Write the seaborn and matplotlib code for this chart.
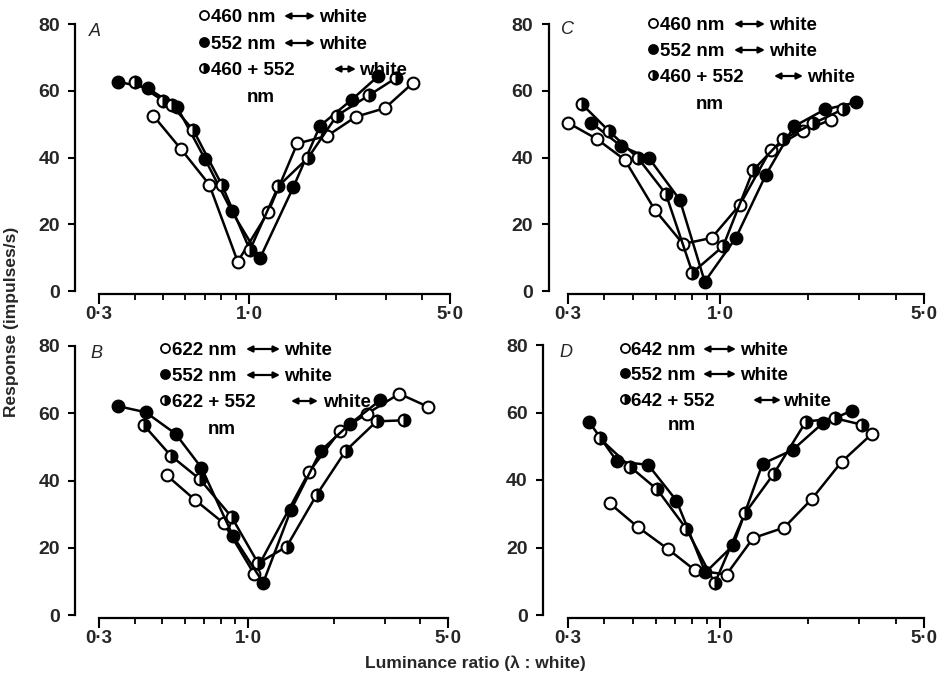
import matplotlib
matplotlib.use("Agg")
import matplotlib.pyplot as plt
from matplotlib.lines import Line2D
from matplotlib.patches import FancyArrowPatch
from matplotlib.ticker import FixedLocator, FixedFormatter, NullFormatter
import seaborn as sns

# ---- data (luminance ratio, response in impulses/s) ----
# panel A: 460 nm, 552 nm, 460+552 nm vs white
a_open_x = [0.464, 0.579, 0.726, 0.912, 1.165, 1.47, 1.87, 2.35, 2.97, 3.71]
a_open_y = [52.5, 42.5, 31.9, 8.8, 23.7, 44.2, 46.5, 52.2, 54.8, 62.3]
a_fill_x = [0.350, 0.443, 0.562, 0.702, 0.869, 1.09, 1.424, 1.764, 2.274, 2.814]
a_fill_y = [62.7, 60.8, 55.0, 39.5, 23.9, 9.8, 31.1, 49.5, 57.3, 64.4]
a_half_x = [0.40, 0.502, 0.538, 0.639, 0.802, 1.006, 1.263, 1.606, 2.016, 2.618, 3.24]
a_half_y = [62.6, 57.0, 55.6, 48.2, 31.9, 12.3, 31.4, 40.0, 52.5, 58.7, 63.8]

# panel B: 622 nm, 552 nm, 622+552 nm vs white
b_open_x = [0.517, 0.649, 0.820, 1.048, 1.633, 2.092, 2.595, 3.376, 4.265]
b_open_y = [41.6, 34.3, 27.3, 12.2, 42.6, 54.7, 59.8, 65.8, 61.9]
b_fill_x = [0.350, 0.437, 0.556, 0.685, 0.884, 1.127, 1.409, 1.794, 2.267, 2.888]
b_fill_y = [62.1, 60.3, 53.9, 43.8, 23.5, 9.6, 31.2, 48.9, 56.8, 63.8]
b_half_x = [0.430, 0.535, 0.676, 0.873, 1.082, 1.361, 1.733, 2.195, 2.812, 3.514]
b_half_y = [56.5, 47.4, 40.4, 29.2, 15.4, 20.3, 35.7, 48.9, 57.6, 57.9]

# panel C: 460 nm, 552 nm, 460+552 nm vs white
c_open_x = [0.300, 0.376, 0.470, 0.596, 0.745, 0.933, 1.166, 1.487, 1.915, 2.396]
c_open_y = [50.4, 45.6, 39.3, 24.3, 14.1, 15.9, 25.8, 42.3, 47.9, 51.3]
c_fill_x = [0.361, 0.455, 0.569, 0.726, 0.884, 1.130, 1.433, 1.788, 2.285, 2.92]
c_fill_y = [50.4, 43.5, 39.8, 27.3, 2.8, 15.9, 34.8, 49.3, 54.4, 56.5]
c_half_x = [0.334, 0.415, 0.522, 0.650, 0.802, 1.022, 1.296, 1.635, 2.083, 2.63]
c_half_y = [56.1, 47.9, 39.8, 29.1, 5.5, 13.4, 36.2, 45.4, 50.2, 54.4]

# panel D: 642 nm, 552 nm, 642+552 nm vs white
d_open_x = [0.417, 0.522, 0.662, 0.817, 1.050, 1.296, 1.656, 2.057, 2.608, 3.306]
d_open_y = [33.1, 26.0, 19.5, 13.3, 12.0, 22.8, 25.9, 34.3, 45.4, 53.6]
d_fill_x = [0.354, 0.442, 0.565, 0.707, 0.889, 1.106, 1.396, 1.770, 2.244, 2.822]
d_fill_y = [57.3, 45.5, 44.5, 33.9, 12.6, 20.6, 44.8, 48.9, 56.8, 60.5]
d_half_x = [0.385, 0.489, 0.607, 0.765, 0.957, 1.214, 1.527, 1.966, 2.473, 3.054]
d_half_y = [52.4, 44.0, 37.2, 25.5, 9.4, 30.1, 41.9, 57.3, 58.3, 56.4]

panel_letters = ["A", "B", "C", "D"]
key_labels_ac = ["460 nm", "552 nm", "460 + 552"]
key_labels_b = ["622 nm", "552 nm", "622 + 552"]
key_labels_d = ["642 nm", "552 nm", "642 + 552"]

x_major = [0.3, 1.0, 5.0]
x_major_labels = ["0\u00b73", "1\u00b70", "5\u00b70"]
x_minor = [0.4, 0.5, 0.6, 0.7, 0.8, 0.9, 2.0, 3.0, 4.0]
y_ticks = [0, 20, 40, 60, 80]

# ---- style ----
sns.set_style("ticks")
plt.rcParams["font.family"] = ["Liberation Sans", "DejaVu Sans"]

W, H = 947, 680
fig = plt.figure(figsize=(W / 100, H / 100), dpi=100)


def fx(x):
    return x / W


def fy(y):
    return 1 - y / H


def rect(x0, x1, y80, y0):
    return [fx(x0), fy(y0), (x1 - x0) / W, (y0 - y80) / H]


open_kw = dict(markerfacecolor="white")
fill_kw = dict(markerfacecolor="black")
half_kw = dict(fillstyle="right", markerfacecolor="black", markerfacecoloralt="white")

panels = [
    # letter, rect, spine offset (pt), series, key labels, key layout
    ("A", rect(99, 450, 24, 291), 17,
     [(a_open_x, a_open_y, open_kw), (a_fill_x, a_fill_y, fill_kw), (a_half_x, a_half_y, half_kw)],
     key_labels_ac,
     dict(letter=(95, 31), mx=204, tx=211, rows=[15, 42, 68],
          arrows=[(284, 315), (284, 315), (334, 356)], wx=[319, 319, 359], nm=(261, 95))),
    ("C", rect(568, 924, 24, 291), 14,
     [(c_open_x, c_open_y, open_kw), (c_fill_x, c_fill_y, fill_kw), (c_half_x, c_half_y, half_kw)],
     key_labels_ac,
     dict(letter=(567, 29), mx=653, tx=660, rows=[23, 49, 75],
          arrows=[(734, 765), (734, 765), (774, 803)], wx=[769, 769, 807], nm=(710, 102))),
    ("B", rect(99, 448, 346, 615), 17,
     [(b_open_x, b_open_y, open_kw), (b_fill_x, b_fill_y, fill_kw), (b_half_x, b_half_y, half_kw)],
     key_labels_b,
     dict(letter=(96, 354), mx=165, tx=172, rows=[348, 374, 400],
          arrows=[(246, 280), (246, 280), (291, 318)], wx=[284, 284, 323], nm=(222, 427))),
    ("D", rect(568, 924, 345, 615), 18,
     [(d_open_x, d_open_y, open_kw), (d_fill_x, d_fill_y, fill_kw), (d_half_x, d_half_y, half_kw)],
     key_labels_d,
     dict(letter=(566, 352), mx=625, tx=631, rows=[348, 373, 399],
          arrows=[(703, 736), (703, 736), (753, 781)], wx=[740, 740, 783], nm=(682, 423))),
]

TXT = dict(fontsize=13.5, fontweight="bold", color="black")
key_styles = [open_kw, fill_kw, half_kw]

for letter, r, offset, series, labels, key in panels:
    ax = fig.add_axes(r)
    for xs, ys, kw in series:
        sns.lineplot(x=xs, y=ys, ax=ax, color="black", linewidth=1.8,
                     marker="o", markersize=8.5, markeredgecolor="black",
                     markeredgewidth=1.5, estimator=None, clip_on=False, **kw)

    ax.set_xscale("log")
    ax.set_xlim(0.3, 5.0)
    ax.set_ylim(0, 80)
    ax.xaxis.set_major_locator(FixedLocator(x_major))
    ax.xaxis.set_major_formatter(FixedFormatter(x_major_labels))
    ax.xaxis.set_minor_locator(FixedLocator(x_minor))
    ax.xaxis.set_minor_formatter(NullFormatter())
    ax.set_yticks(y_ticks)
    sns.despine(ax=ax)
    ax.spines["left"].set_position(("outward", offset))
    ax.spines["bottom"].set_position(("outward", 2))
    for s in ("left", "bottom"):
        ax.spines[s].set_linewidth(1.6)
        ax.spines[s].set_color("black")
    ax.tick_params(axis="x", which="major", length=7, width=1.5, pad=2,
                   labelsize=13.5, color="black")
    ax.tick_params(axis="x", which="minor", length=4.5, width=1.3, color="black")
    ax.tick_params(axis="y", length=5, width=1.5, pad=6, labelsize=14, color="black")
    for t in ax.get_xticklabels() + ax.get_yticklabels():
        t.set_fontweight("bold")
    ax.set_xlabel("")
    ax.set_ylabel("")

    # panel letter
    lx, ly = key["letter"]
    fig.text(fx(lx), fy(ly), letter, fontsize=13, fontstyle="italic",
             ha="center", va="center")

    # key
    for i, (lab, kw) in enumerate(zip(labels, key_styles)):
        y = key["rows"][i]
        fig.add_artist(Line2D([fx(key["mx"])], [fy(y)], transform=fig.transFigure,
                              marker="o", markersize=6.5, color="black",
                              markeredgecolor="black", markeredgewidth=1.3, **kw))
        fig.text(fx(key["tx"]), fy(y + 7), lab, ha="left", va="baseline", **TXT)
        a0, a1 = key["arrows"][i]
        fig.add_artist(FancyArrowPatch(
            (fx(a0), fy(y + 1)), (fx(a1), fy(y + 1)), transform=fig.transFigure,
            arrowstyle="<|-|>", mutation_scale=9, shrinkA=0, shrinkB=0,
            color="black", linewidth=1.6))
        fig.text(fx(key["wx"][i]), fy(y + 7), "white", ha="left", va="baseline", **TXT)
    nx, ny = key["nm"]
    fig.text(fx(nx), fy(ny + 7), "nm", ha="center", va="baseline", **TXT)

fig.text(fx(475), fy(663), "Luminance ratio (\u03bb : white)", ha="center", va="center",
         fontsize=12.5, fontweight="bold")
fig.text(fx(12), fy(322), "Response (impulses/s)", ha="center", va="center",
         rotation=90, fontsize=12.5, fontweight="bold")

fig.savefig("out.png", dpi=100)
